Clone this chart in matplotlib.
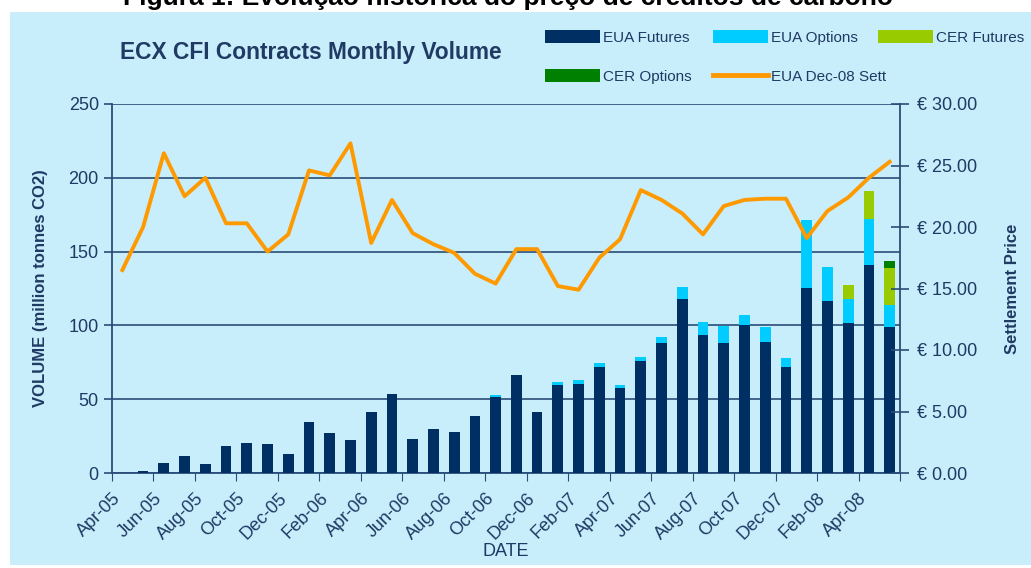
import numpy as np
import matplotlib.pyplot as plt
from matplotlib.patches import Rectangle, Patch
from matplotlib.lines import Line2D

plt.rcParams['font.family'] = ['Liberation Sans', 'DejaVu Sans']

# dados (Apr-05 .. May-08)
meses = ['Apr-05', 'May-05', 'Jun-05', 'Jul-05', 'Aug-05', 'Sep-05', 'Oct-05', 'Nov-05',
         'Dec-05', 'Jan-06', 'Feb-06', 'Mar-06', 'Apr-06', 'May-06', 'Jun-06', 'Jul-06',
         'Aug-06', 'Sep-06', 'Oct-06', 'Nov-06', 'Dec-06', 'Jan-07', 'Feb-07', 'Mar-07',
         'Apr-07', 'May-07', 'Jun-07', 'Jul-07', 'Aug-07', 'Sep-07', 'Oct-07', 'Nov-07',
         'Dec-07', 'Jan-08', 'Feb-08', 'Mar-08', 'Apr-08', 'May-08']
eua_fut = [0, 1.4, 6.8, 11.7, 5.9, 18.3, 20.3, 19.4, 12.6, 34.6, 27.1, 22.1, 41.3, 53.7,
           23.3, 29.8, 28.0, 38.4, 51.3, 66.2, 41.1, 59.6, 60.3, 72.0, 57.6, 75.7, 88.1,
           117.9, 93.7, 88.1, 100.5, 89.0, 72.0, 125.3, 116.8, 101.6, 140.7, 98.9]
eua_opt = [0, 0, 0, 0, 0, 0, 0, 0, 0, 0, 0, 0, 0, 0, 0, 0, 0, 0, 1.5, 0, 0, 1.8, 2.9,
           2.8, 1.8, 2.9, 3.8, 8.3, 8.6, 11.3, 6.5, 9.7, 5.7, 45.9, 22.8, 16.3, 31.4, 14.9]
cer_fut = [0] * 35 + [9.5, 19.2, 24.9]
cer_opt = [0] * 37 + [4.7]
preco = [16.5, 20.0, 26.0, 22.5, 24.0, 20.3, 20.3, 18.0, 19.4, 24.6, 24.2, 26.8, 18.7,
         22.2, 19.5, 18.6, 17.9, 16.2, 15.4, 18.2, 18.2, 15.2, 14.9, 17.5, 19.0, 23.0,
         22.2, 21.1, 19.4, 21.7, 22.2, 22.3, 22.3, 19.1, 21.3, 22.4, 24.0, 25.3]

navy = '#002F63'
txt = '#1F3A63'
linha = '#2A4C78'
fundo = '#C8EEFC'

fig = plt.figure(figsize=(10.31, 5.68), dpi=100)
fig.patches.append(Rectangle((10 / 1031, 3 / 568), 1 - 10 / 1031, 1 - 15 / 568,
                             transform=fig.transFigure, facecolor=fundo,
                             edgecolor='none', zorder=-10))
fig.text(0.493, 1 - 5 / 568, 'Figura 1: Evolução histórica do preço de créditos de carbono',
         ha='center', va='baseline', fontsize=19, fontweight='bold', color='black')

ax = fig.add_axes([112 / 1031, 1 - 473 / 568, 788 / 1031, 369 / 568])
ax.set_facecolor(fundo)
x = np.arange(len(meses))
w = 0.52
b1 = np.array(eua_fut)
b2 = b1 + np.array(eua_opt)
b3 = b2 + np.array(cer_fut)
ax.bar(x, eua_fut, w, color=navy, zorder=3)
ax.bar(x, eua_opt, w, bottom=b1, color='#00CCFF', zorder=3)
ax.bar(x, cer_fut, w, bottom=b2, color='#99CC00', zorder=3)
ax.bar(x, cer_opt, w, bottom=b3, color='#008000', zorder=3)

ax.set_ylim(0, 250)
ax.set_yticks(range(0, 251, 50))
ax.yaxis.grid(True, color=linha, lw=1.2, zorder=1)
ax.set_xlim(-0.5, 37.5)
ticks = np.arange(-0.5, 38, 2)
ax.set_xticks(ticks)
ax.set_xticklabels(meses[0::2] + [''], rotation=45, ha='right', rotation_mode='anchor')
ax.tick_params(axis='x', length=6, color=linha, labelsize=13, labelcolor=txt, pad=6)
ax.tick_params(axis='y', length=6, color=linha, labelsize=13, labelcolor=txt, width=1.2)
for s in ['top', 'right']:
    ax.spines[s].set_visible(False)
for s in ['left', 'bottom']:
    ax.spines[s].set_color(linha)
    ax.spines[s].set_linewidth(1.3)
ax.set_ylabel('VOLUME (million tonnes CO2)', fontsize=12, fontweight='bold', color=txt, labelpad=15)
ax.set_xlabel('DATE', fontsize=13, color=txt, labelpad=0)

ax2 = ax.twinx()
ax2.plot(x, preco, color='#FF9900', lw=2.8, zorder=5)
ax2.set_ylim(0, 30)
ax2.set_yticks(range(0, 31, 5))
ax2.set_yticklabels(['€ %.2f' % v for v in range(0, 31, 5)])
ax2.tick_params(axis='y', direction='inout', length=13, width=1.2, color=linha,
                labelsize=13, labelcolor=txt, pad=6)
for s in ['top', 'left', 'bottom']:
    ax2.spines[s].set_visible(False)
ax2.spines['right'].set_color(linha)
ax2.spines['right'].set_linewidth(1.3)
ax2.set_ylabel('Settlement Price', fontsize=12, fontweight='bold', color=txt, labelpad=20)

fig.text(120 / 1031, 1 - 53 / 568, 'ECX CFI Contracts Monthly Volume', fontsize=16.4,
         fontweight='bold', color=txt, va='center')

# legenda em tres colunas
h_fut = Patch(facecolor=navy, label='EUA Futures')
h_opt = Patch(facecolor='#00CCFF', label='EUA Options')
h_cerf = Patch(facecolor='#99CC00', label='CER Futures')
h_cero = Patch(facecolor='#008000', label='CER Options')
h_sett = Line2D([], [], color='#FF9900', lw=3.5, label='EUA Dec-08 Sett')
colunas = [([h_fut, h_cero], 545), ([h_opt, h_sett], 713), ([h_cerf], 878)]
for hs, xp in colunas:
    lg = fig.legend(handles=hs, loc='upper left', bbox_to_anchor=(xp / 1031, 1 - 30 / 568),
                    frameon=False, fontsize=11, handlelength=3.6, handleheight=0.9,
                    handletextpad=0.2, labelspacing=1.6, borderpad=0, borderaxespad=0,
                    labelcolor=txt)

plt.savefig('out.png', dpi=100)
